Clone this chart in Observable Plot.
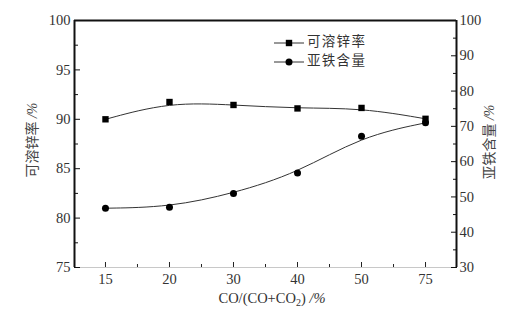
<!DOCTYPE html>
<html><head><meta charset="utf-8">
<script src="https://cdn.jsdelivr.net/npm/d3@7"></script>
<script src="https://cdn.jsdelivr.net/npm/@observablehq/plot@0.6"></script>
<style>body{margin:0;background:#fff}</style>
</head><body><div id="chart"></div>
<script>
const categories = ["15","20","30","40","50","75"];
const zincRate = [90.0, 91.75, 91.45, 91.1, 91.15, 90.05];
const ferrous = [46.8, 47.1, 51.0, 56.8, 67.2, 71.0];
const leftTicks = [75,80,85,90,95,100];
const leftMinor = [77.5,82.5,87.5,92.5,97.5];
const rightTicks = [30,40,50,60,70,80,90,100];
const rightMinor = [35,45,55,65,75,85,95];
const seriesNames = ["可溶锌率","亚铁含量"];
const leftTitle = "可溶锌率 /%";
const rightTitle = "亚铁含量 /%";

const FONT = "'Liberation Serif','Times New Roman','Noto Sans CJK SC',serif";
const toLeft = v => 75 + (v - 30) * 25 / 70;
const idx = categories.map((c, i) => i);
const zData = idx.map(i => ({x: i, y: zincRate[i]}));
const fData = idx.map(i => ({x: i, y: toLeft(ferrous[i])}));
const xMinor = idx.slice(0, -1).map(i => i + 0.5);

const chart = Plot.plot({
  width: 508, height: 315,
  marginLeft: 74, marginRight: 52, marginTop: 20, marginBottom: 48,
  style: {fontFamily: FONT, fontSize: "14.5px", color: "#333", background: "#fff"},
  x: {type: "linear", domain: [-0.484, 5.484]},
  y: {domain: [75, 100]},
  marks: [
    Plot.ruleY([75], {stroke: "#c8c8c8", strokeWidth: 1}),
    Plot.ruleY([100], {stroke: "#111", strokeWidth: 2}),
    Plot.ruleX([-0.484, 5.484], {stroke: "#111", strokeWidth: 2}),
    // left axis
    Plot.axisY({anchor: "left", ticks: leftTicks, tickSize: 0, tickPadding: 4, label: null, fill: "#333"}),
    Plot.axisY({anchor: "left", ticks: leftTicks, tickSize: -6, text: null, label: null, stroke: "#111"}),
    Plot.axisY({anchor: "left", ticks: leftMinor, tickSize: -4, text: null, label: null, stroke: "#111"}),
    // right axis
    Plot.axisY({anchor: "right", ticks: rightTicks.map(toLeft), tickFormat: (d) => String(Math.round(30 + (d - 75) * 70 / 25)), tickSize: 0, tickPadding: 3, label: null, fill: "#333"}),
    Plot.axisY({anchor: "right", ticks: rightTicks.map(toLeft), tickSize: -6, text: null, label: null, stroke: "#111"}),
    Plot.axisY({anchor: "right", ticks: rightMinor.map(toLeft), tickSize: -4, text: null, label: null, stroke: "#111"}),
    // bottom axis
    Plot.axisX({ticks: idx, tickFormat: i => categories[i], tickSize: 0, tickPadding: 6, label: null, fill: "#333"}),
    Plot.axisX({ticks: idx, tickSize: -5, text: null, label: null, stroke: "#222"}),
    Plot.axisX({ticks: xMinor, tickSize: -3, text: null, label: null, stroke: "#222"}),
    // data
    Plot.line(zData, {x: "x", y: "y", curve: "basis", stroke: "#333", strokeWidth: 1}),
    Plot.line(fData, {x: "x", y: "y", curve: "basis", stroke: "#333", strokeWidth: 1}),
    Plot.dot(zData, {x: "x", y: "y", symbol: "square", r: 3.6, fill: "#000", stroke: "none"}),
    Plot.dot(fData, {x: "x", y: "y", symbol: "circle", r: 3.5, fill: "#000", stroke: "none"})
  ]
});
document.getElementById("chart").appendChild(chart);

const svg = d3.select(chart);
function rotTitle(label, x, y) {
  const parts = label.split(" ");
  svg.append("text").attr("transform", `translate(${x},${y}) rotate(-90)`)
    .attr("text-anchor", "middle").attr("dominant-baseline", "middle")
    .style("font-family", FONT).style("font-size", "14px").attr("fill", "#444")
    .call(t => { t.append("tspan").text(parts[0] + " "); t.append("tspan").attr("font-style", "italic").text(parts[1]); });
}
rotTitle(leftTitle, 34, 140);
rotTitle(rightTitle, 491, 142);

const xt = svg.append("text").attr("x", 272).attr("y", 303).attr("text-anchor", "middle")
  .style("font-family", FONT).style("font-size", "14.5px").attr("fill", "#333");
xt.append("tspan").text("CO/(CO+CO");
xt.append("tspan").attr("font-size", "10px").attr("dy", 3).text("2");
xt.append("tspan").attr("dy", -3).text(") ");
xt.append("tspan").attr("font-style", "italic").text("/%");

// legend
const leg = svg.append("g");
seriesNames.forEach((name, i) => {
  const y = 43 + i * 19;
  leg.append("line").attr("x1", 274).attr("x2", 304).attr("y1", y).attr("y2", y).attr("stroke", "#333").attr("stroke-width", 1);
  if (i === 0) leg.append("rect").attr("x", 289 - 3.2).attr("y", y - 3.2).attr("width", 6.4).attr("height", 6.4).attr("fill", "#000");
  else leg.append("circle").attr("cx", 289).attr("cy", y).attr("r", 3.5).attr("fill", "#000");
  leg.append("text").attr("x", 307).attr("y", y).attr("text-anchor", "start").attr("dominant-baseline", "middle")
    .style("font-family", FONT).style("font-size", "13.5px").style("letter-spacing", "1.3px").attr("fill", "#333").text(name);
});
</script>
</body></html>
